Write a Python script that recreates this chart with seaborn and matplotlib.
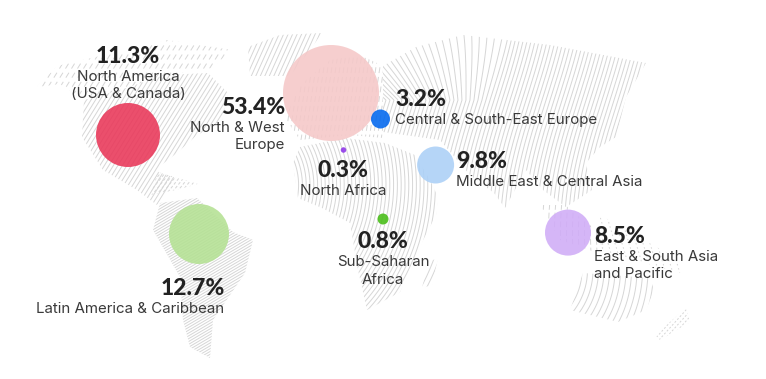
import numpy as np
import pandas as pd
import matplotlib
matplotlib.use("Agg")
import matplotlib.pyplot as plt
from matplotlib.patches import Polygon
import seaborn as sns

regions = ["North America", "North & West Europe", "Central & South-East Europe", "North Africa",
           "Middle East & Central Asia", "Sub-Saharan Africa", "Latin America & Caribbean",
           "East & South Asia and Pacific"]
shares = [11.3, 53.4, 3.2, 0.3, 9.8, 0.8, 12.7, 8.5]
label_lines = [["North America", "(USA & Canada)"], ["North & West", "Europe"], ["Central & South-East Europe"],
               ["North Africa"], ["Middle East & Central Asia"], ["Sub-Saharan", "Africa"],
               ["Latin America & Caribbean"], ["East & South Asia", "and Pacific"]]
colors = ["#E93658", "#F5C8C8", "#0066EE", "#8D35E8", "#ABD0F7", "#46BD15", "#B4E193", "#D0ACF7"]

# layout, in reference pixels
bubble_x = [128, 331, 380.5, 343.5, 435.6, 383, 199, 568]
bubble_y = [135, 93, 119, 150, 165, 219, 234, 232.6]
diameters = [64, 96, 19, 5.5, 37, 11, 60, 46]
text_x = [128, 285, 395, 343.5, 456, 383, 224.5, 594]
num_y = [56.5, 107.5, 99.5, 170.5, 161.5, 241.5, 288.5, 236.5]
aligns = ["center", "right", "left", "center", "left", "center", "right", "left"]

sns.set_theme(style="white")
plt.rcParams["font.family"] = ["Inter", "DejaVu Sans"]
fig = plt.figure(figsize=(7.66, 3.79), dpi=100)
ax = fig.add_axes([0, 0, 1, 1])
ax.set_xlim(0, 766)
ax.set_ylim(379, 0)
ax.axis("off")

LINE = "#d6d6d6"


def hatch(outline, fn, starts, lw=0.7, color=LINE, dashes=None):
    patch = Polygon(outline, closed=True, fc="none", ec="none", transform=ax.transData)
    ax.add_patch(patch)
    for s in starts:
        xs, ys = fn(s)
        ln, = ax.plot(xs, ys, color=color, lw=lw, zorder=1, solid_capstyle="butt")
        if dashes:
            ln.set_dashes(dashes)
        ln.set_clip_path(patch)


def slanted(dx_per_dy):
    t = np.array([0.0, 379.0])
    return lambda s: (s + dx_per_dy * t, t)


def arcs(cx, cy):
    th = np.linspace(-np.pi / 2, np.pi, 400)
    return lambda r: (cx + r * np.cos(th), cy + r * np.sin(th))


def asia_wave(s):
    y = np.linspace(0, 379, 300)
    tilt = np.where(y < 100, (y - 100) * max(0.0, (500 - s) / 70), 0.0)
    return s + tilt - 12 * np.sin((y - 100) / 60) - 0.12 * y, y


north_america = [(84, 100), (120, 90), (165, 75), (208, 73), (228, 93), (222, 120), (196, 136), (178, 152), (160, 166),
                 (158, 172), (176, 178), (157, 205), (137, 190), (103, 170), (82, 137)]
alaska_arctic = [(37, 87), (57, 66), (100, 56), (135, 50), (167, 40), (232, 50), (212, 68), (165, 75), (120, 90),
                 (84, 100), (60, 84)]
caribbean = [(158, 172), (198, 184), (176, 190), (150, 195)]
greenland = [(322, 33), (280, 35), (248, 47), (250, 76), (290, 76), (310, 50)]
south_america = [(160, 203), (197, 198), (233, 232), (253, 240), (245, 273), (213, 320), (210, 358), (190, 347),
                 (183, 320), (180, 277), (153, 230)]
africa = [(293, 163), (300, 147), (345, 138), (385, 143), (415, 155), (430, 180), (438, 197), (436, 215), (418, 250),
          (400, 292), (367, 310), (358, 270), (350, 223), (322, 208), (298, 198)]
europe = [(285, 118), (300, 85), (330, 60), (360, 55), (383, 66), (383, 138), (350, 135), (300, 140)]
eurasia = [(383, 66), (416, 47), (463, 35), (550, 45), (646, 63), (626, 97), (616, 137), (600, 147), (586, 163),
           (592, 190), (566, 207), (543, 190), (526, 170), (505, 208), (494, 193), (470, 175), (440, 140), (383, 132)]
se_asia = [(540, 205), (565, 205), (590, 225), (610, 245), (595, 252), (560, 240)]
indonesia = [(600, 215), (683, 262), (680, 273), (600, 250)]
australia = [(583, 273), (650, 278), (654, 290), (646, 310), (618, 322), (570, 310)]
nz = [(686, 308), (690, 322), (660, 340), (655, 335)]
madagascar = [(428, 262), (438, 258), (432, 285), (422, 288)]

hatch(north_america, slanted(-0.62), np.arange(0, 620, 4.5))
hatch(alaska_arctic, slanted(-0.62), np.arange(0, 620, 6), dashes=(6, 5))
hatch(caribbean, slanted(-0.8), np.arange(200, 420, 4.5), dashes=(3, 2))
hatch(greenland, slanted(-0.45), np.arange(200, 520, 4.5))
hatch(south_america, slanted(-1.7), np.arange(150, 1000, 4.8))
hatch(africa, arcs(232, 185), np.arange(40, 240, 3.8))
hatch(europe, slanted(-0.15), np.arange(250, 420, 4.0), dashes=(6, 4))
hatch(eurasia, asia_wave, np.arange(370, 740, 4.0))
hatch(se_asia, asia_wave, np.arange(520, 680, 6), dashes=(6, 3))
hatch(indonesia, slanted(0.3), np.arange(500, 700, 7), dashes=(1.5, 3))
hatch(australia, arcs(520, 270), np.arange(40, 160, 5.5))
hatch(nz, slanted(-0.9), np.arange(900, 1100, 5), dashes=(2, 2))
hatch(madagascar, arcs(232, 185), np.arange(180, 240, 5))

frame = pd.DataFrame({"region": regions, "x": bubble_x, "y": bubble_y})
sizes = {r: (d * 0.72) ** 2 for r, d in zip(regions, diameters)}
sns.scatterplot(data=frame, x="x", y="y", hue="region", size="region", palette=dict(zip(regions, colors)),
                sizes=sizes, alpha=0.88, linewidth=0, legend=False, ax=ax, zorder=3, clip_on=False)
ax.set_xlabel("")
ax.set_ylabel("")

INK = "#222222"
BODY = "#3a3a3a"
for v, lines, x, y, ha in zip(shares, label_lines, text_x, num_y, aligns):
    ax.text(x, y, f"{v}%", ha=ha, va="center", fontsize=16.5, fontweight="black", color=INK, zorder=5,
            family=["Lato", "DejaVu Sans"])
    for i, line in enumerate(lines):
        ax.text(x, y + 20.5 + 17.5 * i, line, ha=ha, va="center", fontsize=10.85, color=BODY, zorder=5)

fig.savefig("out.png", dpi=100, facecolor="white")
